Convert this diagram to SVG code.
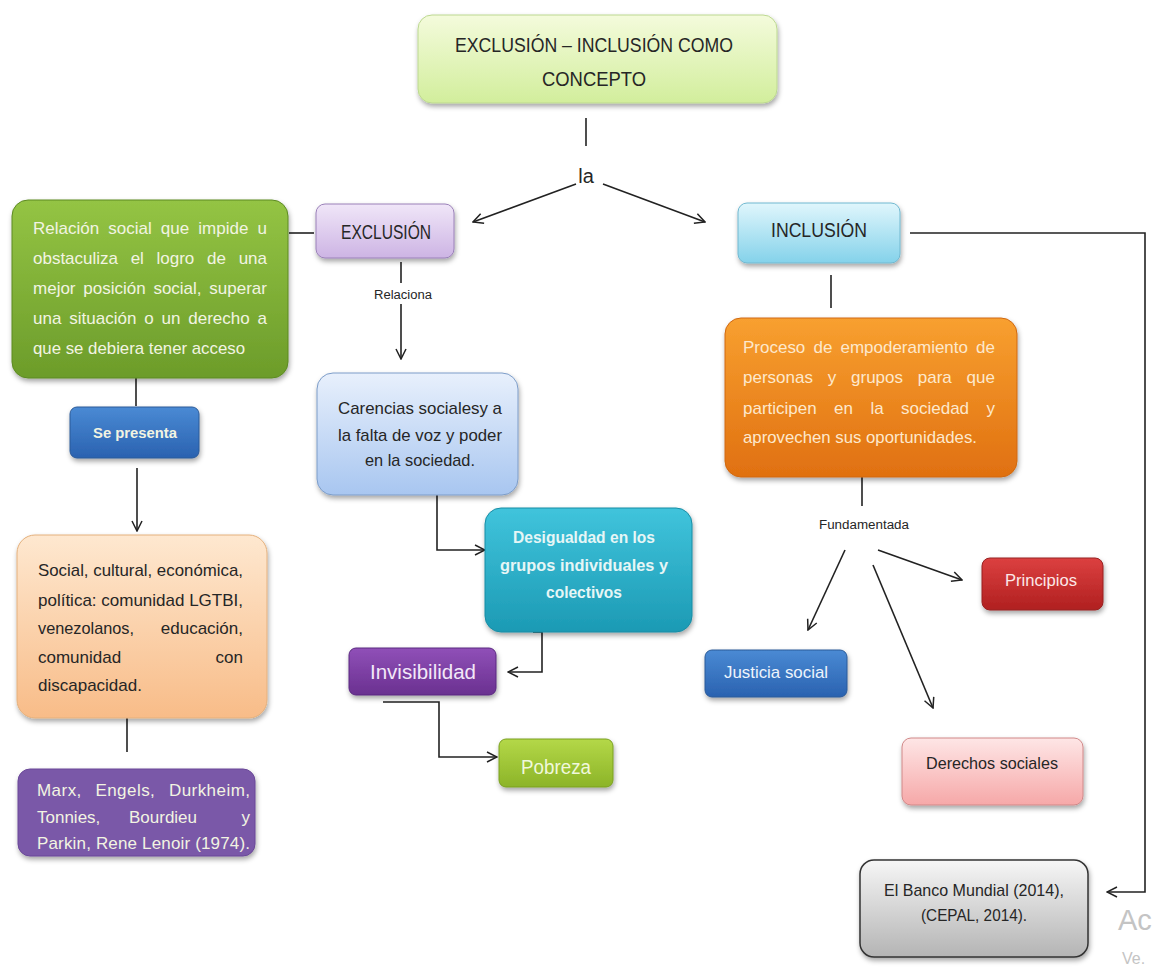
<svg xmlns="http://www.w3.org/2000/svg" width="1155" height="969" viewBox="0 0 1155 969">
<defs>
<linearGradient id="gTop" x1="0" y1="0" x2="0" y2="1"><stop offset="0" stop-color="#f4fbdc"/><stop offset="1" stop-color="#d2ee9c"/></linearGradient>
<linearGradient id="gGreen" x1="0" y1="0" x2="0" y2="1"><stop offset="0" stop-color="#94c444"/><stop offset="1" stop-color="#6c9c2a"/></linearGradient>
<linearGradient id="gLav" x1="0" y1="0" x2="0" y2="1"><stop offset="0" stop-color="#f0e6f8"/><stop offset="1" stop-color="#cdb4e4"/></linearGradient>
<linearGradient id="gCyan" x1="0" y1="0" x2="0" y2="1"><stop offset="0" stop-color="#e0f6fc"/><stop offset="1" stop-color="#84d2ea"/></linearGradient>
<linearGradient id="gBlueL" x1="0" y1="0" x2="0" y2="1"><stop offset="0" stop-color="#e8f0fc"/><stop offset="1" stop-color="#a8c6f0"/></linearGradient>
<linearGradient id="gOrange" x1="0" y1="0" x2="0" y2="1"><stop offset="0" stop-color="#f8a030"/><stop offset="1" stop-color="#e07010"/></linearGradient>
<linearGradient id="gPeach" x1="0" y1="0" x2="0" y2="1"><stop offset="0" stop-color="#fee8d0"/><stop offset="1" stop-color="#f8bc88"/></linearGradient>
<linearGradient id="gTeal" x1="0" y1="0" x2="0" y2="1"><stop offset="0" stop-color="#40c4dc"/><stop offset="1" stop-color="#1c9ab4"/></linearGradient>
<linearGradient id="gPurple" x1="0" y1="0" x2="0" y2="1"><stop offset="0" stop-color="#9050b8"/><stop offset="1" stop-color="#6a3090"/></linearGradient>
<linearGradient id="gPob" x1="0" y1="0" x2="0" y2="1"><stop offset="0" stop-color="#b4d848"/><stop offset="1" stop-color="#8cb428"/></linearGradient>
<linearGradient id="gBlue" x1="0" y1="0" x2="0" y2="1"><stop offset="0" stop-color="#4a8ad4"/><stop offset="1" stop-color="#2a62b0"/></linearGradient>
<linearGradient id="gRed" x1="0" y1="0" x2="0" y2="1"><stop offset="0" stop-color="#dc4040"/><stop offset="1" stop-color="#b02020"/></linearGradient>
<linearGradient id="gPink" x1="0" y1="0" x2="0" y2="1"><stop offset="0" stop-color="#fee6e6"/><stop offset="1" stop-color="#f6a8a8"/></linearGradient>
<linearGradient id="gGray" x1="0" y1="0" x2="0" y2="1"><stop offset="0" stop-color="#f6f6f6"/><stop offset="1" stop-color="#b4b4b4"/></linearGradient>
<filter id="sh" x="-10%" y="-10%" width="120%" height="130%"><feDropShadow dx="1" dy="3" stdDeviation="2.5" flood-color="#000" flood-opacity="0.35"/></filter>
<marker id="ah" viewBox="0 0 12 12" refX="11" refY="6" markerWidth="12" markerHeight="12" markerUnits="userSpaceOnUse" orient="auto"><path d="M1,1 L11,6 L1,11" fill="none" stroke="#222" stroke-width="1.5"/></marker>
</defs>
<style>
.t{font-family:"Liberation Sans",Arial,sans-serif;}
.dk{fill:#262626;}
.lt{fill:#f2f4e2;}
.c{text-anchor:middle;}
.e{text-anchor:end;}
.ln{fill:none;stroke:#222;stroke-width:1.6;}
</style>
<rect width="1155" height="969" fill="#ffffff"/>

<g id="connectors">
<line class="ln" x1="586" y1="118" x2="586" y2="146"/>
<line class="ln" x1="576" y1="184" x2="473" y2="222" marker-end="url(#ah)"/>
<line class="ln" x1="603" y1="184" x2="705" y2="222" marker-end="url(#ah)"/>
<line class="ln" x1="289" y1="233" x2="314" y2="233"/>
<line class="ln" x1="136" y1="378" x2="136" y2="406"/>
<line class="ln" x1="137" y1="468" x2="137" y2="531" marker-end="url(#ah)"/>
<line class="ln" x1="127" y1="718" x2="127" y2="752"/>
<line class="ln" x1="401" y1="262" x2="401" y2="283"/>
<line class="ln" x1="401" y1="304" x2="401" y2="359" marker-end="url(#ah)"/>
<polyline class="ln" points="386,494 437,494 437,550 485,550" marker-end="url(#ah)"/>
<polyline class="ln" points="533,632 542,632 542,672 508,672" marker-end="url(#ah)"/>
<polyline class="ln" points="383,702 439,702 439,757 497,757" marker-end="url(#ah)"/>
<line class="ln" x1="831" y1="275" x2="831" y2="308"/>
<polyline class="ln" points="910,233 1145,233 1145,892 1107,892" marker-end="url(#ah)"/>
<line class="ln" x1="862" y1="477" x2="862" y2="506"/>
<line class="ln" x1="845" y1="550" x2="808" y2="630" marker-end="url(#ah)"/>
<line class="ln" x1="873" y1="565" x2="933" y2="708" marker-end="url(#ah)"/>
<line class="ln" x1="878" y1="550" x2="962" y2="580" marker-end="url(#ah)"/>
</g>

<g id="labels" class="t">
<text x="586" y="183" class="dk c" font-size="20">la</text>
<text x="403" y="299" class="dk c" font-size="12" textLength="58" lengthAdjust="spacingAndGlyphs">Relaciona</text>
<text x="864" y="529" class="dk c" font-size="12" textLength="90" lengthAdjust="spacingAndGlyphs">Fundamentada</text>
</g>

<g id="n-top">
<rect x="418" y="15" width="359" height="88" rx="14" fill="url(#gTop)" stroke="#bcd890" filter="url(#sh)"/>
<text class="t dk c" x="594" y="52" font-size="21" textLength="278" lengthAdjust="spacingAndGlyphs">EXCLUSIÓN – INCLUSIÓN COMO</text>
<text class="t dk c" x="594" y="86" font-size="21" textLength="104" lengthAdjust="spacingAndGlyphs">CONCEPTO</text>
</g>

<g id="n-exclusion">
<rect x="316" y="204" width="138" height="54" rx="9" fill="url(#gLav)" stroke="#9a80b8" filter="url(#sh)"/>
<text class="t dk c" x="386" y="239" font-size="20" textLength="90" lengthAdjust="spacingAndGlyphs">EXCLUSIÓN</text>
</g>

<g id="n-inclusion">
<rect x="738" y="203" width="162" height="60" rx="9" fill="url(#gCyan)" stroke="#70b8d0" filter="url(#sh)"/>
<text class="t dk c" x="819" y="237" font-size="20" textLength="96" lengthAdjust="spacingAndGlyphs">INCLUSIÓN</text>
</g>

<g id="n-relacion" class="t lt" font-size="17">
<rect x="12" y="200" width="276" height="178" rx="16" fill="url(#gGreen)" stroke="#5c8a22" filter="url(#sh)"/>
<text x="33" y="234" word-spacing="4.4" textLength="234" lengthAdjust="spacing">Relación social que impide u</text>
<text x="33" y="264" word-spacing="8" textLength="234" lengthAdjust="spacing">obstaculiza el logro de una</text>
<text x="33" y="294" word-spacing="3" textLength="234" lengthAdjust="spacing">mejor posición social, superar</text>
<text x="33" y="324" word-spacing="3.1" textLength="234" lengthAdjust="spacing">una situación o un derecho a</text>
<text x="33" y="354" textLength="212" lengthAdjust="spacingAndGlyphs">que se debiera tener acceso</text>
</g>

<g id="n-sepresenta">
<rect x="70" y="407" width="129" height="51" rx="7" fill="url(#gBlue)" stroke="#2a5a98" filter="url(#sh)"/>
<text class="t lt c" x="135" y="438" font-size="14" font-weight="bold" textLength="84" lengthAdjust="spacingAndGlyphs">Se presenta</text>
</g>

<g id="n-social" class="t dk" font-size="17">
<rect x="17" y="535" width="250" height="183" rx="18" fill="url(#gPeach)" stroke="#e4b07c" filter="url(#sh)"/>
<text x="38" y="576" textLength="205" lengthAdjust="spacingAndGlyphs">Social, cultural, económica,</text>
<text x="38" y="606" textLength="205" lengthAdjust="spacingAndGlyphs">política: comunidad LGTBI,</text>
<text x="38" y="634" textLength="96" lengthAdjust="spacingAndGlyphs">venezolanos,</text>
<text x="243" y="634" class="e">educación,</text>
<text x="38" y="663">comunidad</text>
<text x="243" y="663" class="e">con</text>
<text x="38" y="691">discapacidad.</text>
</g>

<g id="n-autores" class="t" font-size="17">
<rect x="18" y="769" width="237" height="87" rx="12" fill="#7a58a8" stroke="#6a4898" filter="url(#sh)"/>
<text class="lt" x="37" y="796" word-spacing="8.5" textLength="213" lengthAdjust="spacing">Marx, Engels, Durkheim,</text>
<text class="lt" x="37" y="823">Tonnies,</text>
<text class="lt c" x="163" y="823">Bourdieu</text>
<text class="lt e" x="250" y="823">y</text>
<text class="lt" x="37" y="849" textLength="213" lengthAdjust="spacing">Parkin, Rene Lenoir (1974).</text>
</g>

<g id="n-carencias" class="t dk c" font-size="17">
<rect x="317" y="373" width="201" height="122" rx="16" fill="url(#gBlueL)" stroke="#7c9cc8" filter="url(#sh)"/>
<text x="420" y="414" textLength="164" lengthAdjust="spacingAndGlyphs">Carencias socialesy a</text>
<text x="420" y="441" textLength="164" lengthAdjust="spacingAndGlyphs">la falta de voz y poder</text>
<text x="420" y="466" textLength="110" lengthAdjust="spacingAndGlyphs">en la sociedad.</text>
</g>

<g id="n-desigualdad" class="t c" font-size="17" font-weight="bold">
<rect x="485" y="508" width="207" height="124" rx="16" fill="url(#gTeal)" stroke="#188ca4" filter="url(#sh)"/>
<text x="584" y="543" fill="#e6f6f6" textLength="142" lengthAdjust="spacingAndGlyphs">Desigualdad en los</text>
<text x="584" y="571" fill="#e6f6f6" textLength="168" lengthAdjust="spacingAndGlyphs">grupos individuales y</text>
<text x="584" y="598" fill="#e6f6f6" textLength="76" lengthAdjust="spacingAndGlyphs">colectivos</text>
</g>

<g id="n-invisibilidad">
<rect x="349" y="648" width="147" height="47" rx="7" fill="url(#gPurple)" stroke="#5a2880" filter="url(#sh)"/>
<text class="t c" x="423" y="679" font-size="20" fill="#f2e8f8" textLength="106" lengthAdjust="spacingAndGlyphs">Invisibilidad</text>
</g>

<g id="n-pobreza">
<rect x="499" y="739" width="114" height="48" rx="7" fill="url(#gPob)" stroke="#7aa020" filter="url(#sh)"/>
<text class="t c" x="556" y="774" font-size="20" fill="#f0f8dc" textLength="70" lengthAdjust="spacingAndGlyphs">Pobreza</text>
</g>

<g id="n-proceso" class="t" font-size="17" fill="#fde8cc">
<rect x="725" y="318" width="292" height="159" rx="16" fill="url(#gOrange)" stroke="#d06810" filter="url(#sh)"/>
<text x="743" y="353" word-spacing="3.4" textLength="252" lengthAdjust="spacing">Proceso de empoderamiento de</text>
<text x="743" y="383" word-spacing="10.1" textLength="252" lengthAdjust="spacing">personas y grupos para que</text>
<text x="743" y="414" word-spacing="12.7" textLength="252" lengthAdjust="spacing">participen en la sociedad y</text>
<text x="743" y="443" textLength="234" lengthAdjust="spacingAndGlyphs">aprovechen sus oportunidades.</text>
</g>

<g id="n-justicia">
<rect x="705" y="650" width="142" height="47" rx="7" fill="url(#gBlue)" stroke="#2a5a98" filter="url(#sh)"/>
<text class="t c" x="776" y="678" font-size="17" fill="#eef4fc" textLength="104" lengthAdjust="spacingAndGlyphs">Justicia social</text>
</g>

<g id="n-principios">
<rect x="982" y="558" width="121" height="52" rx="8" fill="url(#gRed)" stroke="#982020" filter="url(#sh)"/>
<text class="t c" x="1041" y="586" font-size="17" fill="#fce8e8" textLength="72" lengthAdjust="spacingAndGlyphs">Principios</text>
</g>

<g id="n-derechos">
<rect x="902" y="738" width="181" height="67" rx="9" fill="url(#gPink)" stroke="#d08888" filter="url(#sh)"/>
<text class="t dk c" x="992" y="769" font-size="17" textLength="132" lengthAdjust="spacingAndGlyphs">Derechos sociales</text>
</g>

<g id="n-banco">
<rect x="860" y="860" width="228" height="97" rx="14" fill="url(#gGray)" stroke="#333" stroke-width="1.5" filter="url(#sh)"/>
<text class="t dk c" x="974" y="896" font-size="17" textLength="180" lengthAdjust="spacingAndGlyphs">El Banco Mundial (2014),</text>
<text class="t dk c" x="974" y="921" font-size="17" textLength="106" lengthAdjust="spacingAndGlyphs">(CEPAL, 2014).</text>
</g>

<g id="watermark" class="t" fill="#c4c4c4">
<text x="1118" y="930" font-size="29">Ac</text>
<text x="1122" y="964" font-size="16">Ve.</text>
</g>
</svg>
